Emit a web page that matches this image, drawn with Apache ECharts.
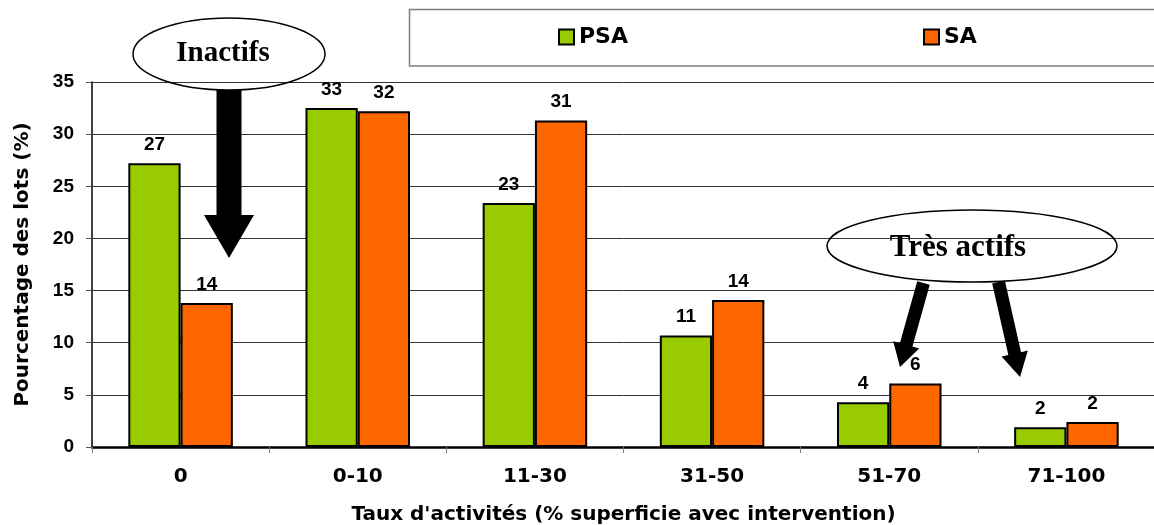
<!DOCTYPE html>
<html>
<head>
<meta charset="utf-8">
<title>Taux d'activités</title>
<script src="https://cdn.jsdelivr.net/npm/echarts@6/dist/echarts.min.js"></script>
<style>
  html, body { margin: 0; padding: 0; background: #fff; }
  #chart { width: 1154px; height: 525px; }
</style>
</head>
<body>
<div id="chart"></div>
<script>
// Activity classes (% of area with intervention)
const categories = ['0', '0-10', '11-30', '31-50', '51-70', '71-100'];
// Share of lots (%) per class
const psaValues = [27.2, 32.5, 23.4, 10.7, 4.3, 1.9];
const saValues = [13.8, 32.2, 31.3, 14.1, 6.1, 2.4];
const seriesNames = ['PSA', 'SA'];
const yTicks = { min: 0, max: 35, interval: 5 };

const GREEN = '#99cc00';
const ORANGE = '#ff6600';
const SANS = 'Liberation Sans, Arial, sans-serif';
const WIDE = 'DejaVu Sans, Verdana, sans-serif';
const SERIF = 'Liberation Serif, Times New Roman, serif';

// Polygon for a block arrow running from (x1,y1) to its tip at (x2,y2)
function arrowPoints(x1, y1, x2, y2, shaftW, headW, headL) {
  const dx = x2 - x1, dy = y2 - y1;
  const len = Math.hypot(dx, dy);
  const ux = dx / len, uy = dy / len;
  const px = -uy, py = ux;
  const bx = x2 - ux * headL, by = y2 - uy * headL;
  const s = shaftW / 2, h = headW / 2;
  return [
    [x1 + px * s, y1 + py * s],
    [bx + px * s, by + py * s],
    [bx + px * h, by + py * h],
    [x2, y2],
    [bx - px * h, by - py * h],
    [bx - px * s, by - py * s],
    [x1 - px * s, y1 - py * s]
  ];
}

const chart = echarts.init(document.getElementById('chart'), null, { renderer: 'canvas' });

const labelStyle = {
  show: true,
  position: 'top',
  distance: 9,
  color: '#000',
  fontFamily: SANS,
  fontWeight: 'bold',
  fontSize: 19,
  formatter: p => Math.round(p.value)
};

const legendBase = {
  orient: 'horizontal',
  top: 26,
  padding: 0,
  itemWidth: 15,
  itemHeight: 15,
  icon: 'rect',
  selectedMode: false,
  textStyle: { fontFamily: WIDE, fontWeight: 'bold', fontSize: 22, color: '#000' }
};

chart.setOption({
  backgroundColor: '#fff',
  animation: false,
  grid: {
    left: 92, top: 82, right: -1, bottom: 78,
    containLabel: false,
    outerBoundsMode: 'none'
  },
  legend: [
    Object.assign({}, legendBase, { left: 558, data: [seriesNames[0]] }),
    Object.assign({}, legendBase, { left: 923, data: [seriesNames[1]] })
  ],
  xAxis: {
    type: 'category',
    data: categories,
    name: "Taux d'activités (% superficie avec intervention)",
    nameLocation: 'middle',
    nameGap: 58,
    nameTextStyle: { fontFamily: WIDE, fontWeight: 'bold', fontSize: 20, color: '#000' },
    axisLine: { lineStyle: { color: '#000', width: 2.5 } },
    axisTick: { show: true, length: 6, lineStyle: { color: '#808080', width: 1 } },
    axisLabel: { margin: 20, fontFamily: WIDE, fontWeight: 'bold', fontSize: 20, color: '#000' },
    splitLine: { show: false }
  },
  yAxis: {
    type: 'value',
    min: yTicks.min,
    max: yTicks.max,
    interval: yTicks.interval,
    name: 'Pourcentage des lots (%)',
    nameLocation: 'middle',
    nameGap: 59,
    nameTextStyle: { fontFamily: WIDE, fontWeight: 'bold', fontSize: 20, color: '#000' },
    axisLine: { show: true, lineStyle: { color: '#000', width: 1.5 } },
    axisTick: { show: true, length: 6, lineStyle: { color: '#555', width: 1 } },
    axisLabel: { margin: 18, fontFamily: SANS, fontWeight: 'bold', fontSize: 19, color: '#000' },
    splitLine: { show: true, lineStyle: { color: '#333', width: 1 } }
  },
  series: [
    {
      name: seriesNames[0],
      type: 'bar',
      data: psaValues,
      barGap: '0%',
      barCategoryGap: '41%',
      itemStyle: { color: GREEN, borderColor: '#000', borderWidth: 2 },
      label: labelStyle
    },
    {
      name: seriesNames[1],
      type: 'bar',
      data: saValues,
      barGap: '0%',
      barCategoryGap: '41%',
      itemStyle: { color: ORANGE, borderColor: '#000', borderWidth: 2 },
      label: labelStyle
    }
  ],
  graphic: [
    // legend frame
    {
      type: 'rect', z: 50, silent: true,
      shape: { x: 409.5, y: 9.5, width: 800, height: 56.5 },
      style: { fill: 'none', stroke: '#7f7f7f', lineWidth: 1.5 }
    },
    // "Inactifs" callout
    {
      type: 'ellipse', z: 100, silent: true,
      shape: { cx: 229, cy: 54, rx: 96, ry: 36 },
      style: { fill: 'none', stroke: '#000', lineWidth: 1.5 }
    },
    {
      type: 'text', z: 101, silent: true,
      style: {
        x: 223, y: 54, text: 'Inactifs',
        font: 'bold 29px ' + SERIF, fill: '#000',
        textAlign: 'center', textVerticalAlign: 'middle'
      }
    },
    {
      type: 'polygon', z: 100, silent: true,
      shape: { points: arrowPoints(229, 90, 229, 258, 25, 50, 43) },
      style: { fill: '#000' }
    },
    // "Très actifs" callout
    {
      type: 'ellipse', z: 100, silent: true,
      shape: { cx: 972, cy: 246, rx: 145, ry: 36 },
      style: { fill: 'none', stroke: '#000', lineWidth: 1.5 }
    },
    {
      type: 'text', z: 101, silent: true,
      style: {
        x: 958, y: 248, text: 'Très actifs',
        font: 'bold 31px ' + SERIF, fill: '#000',
        textAlign: 'center', textVerticalAlign: 'middle'
      }
    },
    {
      type: 'polygon', z: 100, silent: true,
      shape: { points: arrowPoints(923.5, 283, 900, 367, 13, 27, 23) },
      style: { fill: '#000' }
    },
    {
      type: 'polygon', z: 100, silent: true,
      shape: { points: arrowPoints(998.5, 282, 1020, 377, 13, 27, 24) },
      style: { fill: '#000' }
    }
  ]
});
</script>
</body>
</html>
